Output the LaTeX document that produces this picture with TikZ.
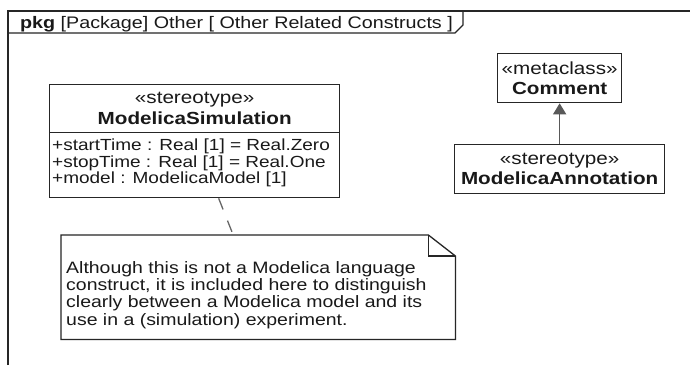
\documentclass[tikz,border=0pt]{standalone}
\usepackage{fontspec}
\setmainfont{Liberation Sans}[FakeStretch=1.18]
\usetikzlibrary{arrows.meta,calc}
\begin{document}
\begin{tikzpicture}[x=1pt,y=-1pt,
  line/.style={line width=1.3pt,draw=black!85},
  box/.style={line, rectangle, inner sep=0pt, anchor=north west},
  txt/.style={inner sep=0pt, font=\fontsize{16.5}{17}\selectfont, text=black!90},
  head/.style={txt, align=center, font=\fontsize{17.5}{20.5}\selectfont},
]
\useasboundingbox (0,0) rectangle (690,365);
\fill[white] (0,0) rectangle (690,365);
% frame
\draw[line] (8,365) -- (8,11) -- (690,11);
\draw[line] (8,33) -- (455,33) -- (463,25) -- (463,11);
\node[txt, anchor=base west, font=\fontsize{16.7}{20}\selectfont] (title) at (20,28) {\textbf{pkg} [Package] Other [ Other Related Constructs ]};
% ModelicaSimulation
\node[box, minimum width=290, minimum height=48] (simhead) at (49,84) {};
\node[head] (simname) at (simhead.center) {«stereotype»\\\textbf{ModelicaSimulation}};
\node[box, minimum width=290, minimum height=65] (simattr) at (49,132) {};
\node[txt, align=left, anchor=west, font=\fontsize{16.1}{16.5}\selectfont] (attrs) at (52,163) {+startTime : Real [1] = Real.Zero\\+stopTime : Real [1] = Real.One\\+model : ModelicaModel [1]};
% Comment
\node[box, minimum width=124, minimum height=49] (comment) at (497,53) {};
\node[head] (commenttxt) at (comment.center) {«metaclass»\\\textbf{Comment}};
% ModelicaAnnotation
\node[box, minimum width=210, minimum height=49] (annot) at (454,144) {};
\node[head] (annottxt) at (annot.center) {«stereotype»\\\textbf{ModelicaAnnotation}};
\draw[line width=1.3pt, draw=black!65, fill=black!65, -{Triangle[length=11pt,width=13pt]}] (annot.north) -- (comment.south);
% Note
\node[inner sep=0pt, minimum width=394, minimum height=104, anchor=north west] (note) at (61,235) {};
\draw[line] (note.south west) -- (note.north west) -- ($(note.north east)+(-27,0)$) -- ($(note.north east)+(0,21)$) -- (note.south east) -- cycle;
\draw[line] ($(note.north east)+(-27,0)$) -- ($(note.north east)+(-27,21)$) -- ($(note.north east)+(0,21)$);
\node[txt, align=left, anchor=west, font=\fontsize{16.5}{17.3}\selectfont] (notetxt) at (66,295) {Although this is not a Modelica language\\construct, it is included here to distinguish\\clearly between a Modelica model and its\\use in a (simulation) experiment.};
\draw[line width=1.3pt, draw=black!60, dash pattern=on 12pt off 12pt] ($(simattr.south)+(24,0)$) -- ($(note.north)+(-25,0)$);
\end{tikzpicture}
\end{document}
